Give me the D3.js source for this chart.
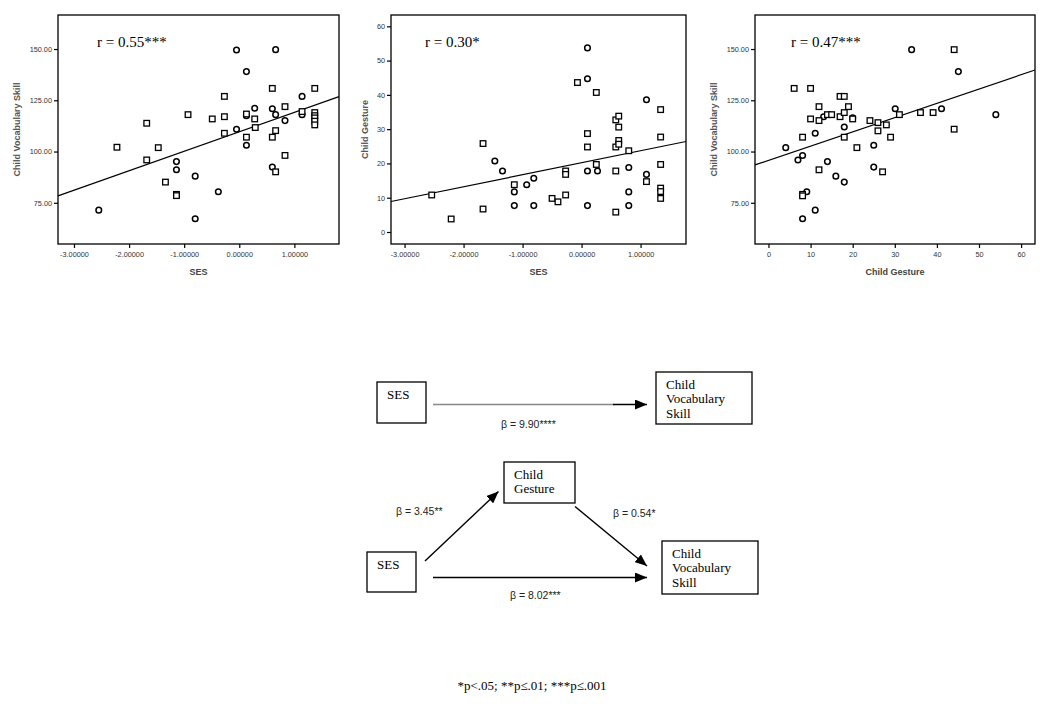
<!DOCTYPE html>
<html>
<head>
<meta charset="utf-8">
<script src="https://cdn.jsdelivr.net/npm/d3@7"></script>
<style>
  body { margin: 0; background: #fff; }
  svg { display: block; }
</style>
</head>
<body>
<svg width="1050" height="708"></svg>
<script>
// [x, y, shape]  shape: c = circle, s = square
const sesVocab = [
  [-2.55, 71.4, 'c'], [-2.22, 102.1, 's'], [-1.68, 113.8, 's'], [-1.68, 95.9, 's'],
  [-1.47, 101.9, 's'], [-1.34, 85.1, 's'], [-1.14, 95.1, 'c'], [-1.14, 91.1, 'c'],
  [-1.14, 79.1, 's'], [-1.14, 78.5, 's'], [-0.80, 88.0, 'c'], [-0.80, 67.2, 'c'],
  [-0.93, 118.0, 's'], [-0.49, 115.9, 's'], [-0.38, 80.4, 'c'], [-0.27, 126.9, 's'],
  [-0.27, 117.0, 's'], [-0.27, 108.9, 's'], [-0.05, 149.5, 'c'], [-0.05, 110.9, 'c'],
  [0.13, 139.0, 'c'], [0.13, 118.3, 's'], [0.13, 117.5, 'c'], [0.13, 107.0, 's'],
  [0.13, 103.1, 'c'], [0.28, 121.1, 'c'], [0.28, 115.9, 's'], [0.29, 111.7, 's'],
  [0.60, 130.8, 's'], [0.60, 120.9, 'c'], [0.60, 107.0, 's'], [0.60, 92.4, 'c'],
  [0.66, 149.7, 'c'], [0.66, 118.0, 'c'], [0.66, 110.2, 's'], [0.66, 90.1, 's'],
  [0.83, 121.9, 's'], [0.83, 115.1, 'c'], [0.83, 98.1, 's'], [1.14, 126.9, 'c'],
  [1.14, 119.5, 's'], [1.14, 118.0, 'c'], [1.37, 130.8, 's'], [1.37, 119.0, 's'],
  [1.37, 117.5, 's'], [1.37, 116.4, 's'], [1.37, 114.8, 's'], [1.37, 113.0, 's']
];

const sesGesture = [
  [-2.54, 10.8, 's'], [-2.21, 3.8, 's'], [-1.67, 25.8, 's'], [-1.67, 6.7, 's'],
  [-1.47, 20.7, 'c'], [-1.34, 17.8, 'c'], [-1.14, 13.8, 's'], [-1.14, 11.7, 'c'],
  [-1.14, 7.7, 'c'], [-0.93, 13.8, 'c'], [-0.81, 15.7, 'c'], [-0.81, 7.7, 'c'],
  [-0.50, 9.8, 's'], [-0.40, 8.8, 's'], [-0.27, 17.8, 's'], [-0.27, 16.8, 's'],
  [-0.27, 10.8, 's'], [-0.07, 43.6, 's'], [0.10, 53.7, 'c'], [0.10, 44.7, 'c'],
  [0.10, 28.7, 's'], [0.10, 24.8, 's'], [0.10, 17.8, 'c'], [0.10, 7.7, 'c'],
  [0.25, 40.7, 's'], [0.25, 19.7, 's'], [0.27, 17.8, 'c'], [0.58, 32.7, 's'],
  [0.58, 24.8, 's'], [0.58, 17.8, 's'], [0.58, 5.8, 's'], [0.63, 33.8, 's'],
  [0.63, 30.6, 's'], [0.63, 26.7, 's'], [0.63, 25.6, 's'], [0.80, 23.7, 's'],
  [0.80, 18.8, 'c'], [0.80, 11.7, 'c'], [0.80, 7.7, 'c'], [1.10, 38.6, 'c'],
  [1.10, 16.8, 'c'], [1.10, 14.7, 's'], [1.34, 35.7, 's'], [1.34, 27.7, 's'],
  [1.34, 19.7, 's'], [1.34, 12.8, 's'], [1.34, 11.8, 's'], [1.34, 9.8, 's']
];

const gestureVocab = [
  [4.1, 101.9, 'c'], [6.1, 130.8, 's'], [7.0, 95.9, 'c'], [8.1, 107.0, 's'],
  [8.1, 98.1, 'c'], [8.1, 79.1, 's'], [8.1, 78.4, 's'], [8.1, 67.2, 'c'],
  [9.1, 80.4, 'c'], [10.0, 130.8, 's'], [10.0, 115.9, 's'], [11.1, 108.9, 'c'],
  [11.1, 71.4, 'c'], [12.0, 121.9, 's'], [12.0, 115.1, 's'], [12.0, 91.1, 's'],
  [13.1, 117.0, 'c'], [14.0, 118.0, 's'], [14.0, 95.1, 'c'], [15.0, 118.0, 's'],
  [16.0, 88.0, 'c'], [17.0, 126.9, 's'], [17.0, 117.0, 's'], [18.0, 126.9, 's'],
  [18.0, 119.0, 's'], [18.0, 112.0, 'c'], [18.0, 107.0, 's'], [18.0, 85.1, 'c'],
  [19.0, 121.9, 's'], [20.0, 116.4, 'c'], [20.0, 115.9, 's'], [21.0, 101.9, 's'],
  [24.1, 115.1, 's'], [25.0, 103.1, 'c'], [25.0, 92.4, 'c'], [26.0, 114.1, 's'],
  [26.0, 110.1, 's'], [27.1, 90.1, 's'], [28.0, 113.0, 's'], [29.0, 107.0, 's'],
  [30.1, 120.9, 'c'], [31.1, 118.0, 's'], [34.0, 149.7, 'c'], [36.1, 119.0, 's'],
  [39.1, 119.0, 's'], [41.1, 120.9, 'c'], [44.1, 149.7, 's'], [44.1, 110.9, 's'],
  [45.1, 139.0, 'c'], [54.0, 118.0, 'c']
];

// fitted lines: [intercept, slope]
const fitSesVocab = [109.6, 9.5];
const fitSesGesture = [20.2, 3.5];
const fitGestureVocab = [95.7, 0.696];

const rLabels = ['r = 0.55***', 'r = 0.30*', 'r = 0.47***'];
const sesTicks = [-3, -2, -1, 0, 1];
const vocabTicks = [75, 100, 125, 150];
const gestureTicks = [0, 10, 20, 30, 40, 50, 60];

const svg = d3.select('svg');
svg.append('rect').attr('width', 1050).attr('height', 708).attr('fill', '#fff');

const panels = [
  {data: sesVocab, fit: fitSesVocab, r: rLabels[0],
   xDom: [-3.29, 1.81], yDom: [54.9, 166.6], xr: [58, 339], yr: [244, 15],
   xTicks: sesTicks, yTicks: vocabTicks, xFmt: d => d.toFixed(5), yFmt: d => d.toFixed(2),
   xTitle: 'SES', yTitle: 'Child Vocabulary Skill', yTitleX: 17, rx: 97},
  {data: sesGesture, fit: fitSesGesture, r: rLabels[1],
   xDom: [-3.23, 1.77], yDom: [-3.5, 63.3], xr: [391, 686], yr: [244, 15],
   xTicks: sesTicks, yTicks: gestureTicks, xFmt: d => d.toFixed(5), yFmt: d => d,
   xTitle: 'SES', yTitle: 'Child Gesture', yTitleX: 365, rx: 425},
  {data: gestureVocab, fit: fitGestureVocab, r: rLabels[2],
   xDom: [-3.2, 63.3], yDom: [54.9, 166.6], xr: [755, 1035], yr: [244, 15],
   xTicks: gestureTicks, yTicks: vocabTicks, xFmt: d => d, yFmt: d => d.toFixed(2),
   xTitle: 'Child Gesture', yTitle: 'Child Vocabulary Skill', yTitleX: 714, rx: 791}
];

panels.forEach(p => {
  const x = d3.scaleLinear().domain(p.xDom).range(p.xr);
  const y = d3.scaleLinear().domain(p.yDom).range(p.yr);
  const g = svg.append('g');

  const xAxis = g.append('g')
    .attr('transform', `translate(0,${p.yr[0]})`)
    .call(d3.axisBottom(x).tickValues(p.xTicks).tickFormat(p.xFmt).tickSize(4).tickPadding(4));
  const yAxis = g.append('g')
    .attr('transform', `translate(${p.xr[0]},0)`)
    .call(d3.axisLeft(y).tickValues(p.yTicks).tickFormat(p.yFmt).tickSize(4).tickPadding(2));
  [xAxis, yAxis].forEach(a => {
    a.select('.domain').remove();
    a.selectAll('line').attr('stroke', '#000').attr('stroke-width', 1.2);
    a.selectAll('text').attr('font-family', 'Liberation Sans, Arial, sans-serif')
      .attr('font-size', 7.3).attr('fill', '#333');
  });

  // frame
  g.append('rect')
    .attr('x', p.xr[0]).attr('y', p.yr[1])
    .attr('width', p.xr[1] - p.xr[0]).attr('height', p.yr[0] - p.yr[1])
    .attr('fill', 'none').attr('stroke', '#000').attr('stroke-width', 1.3);

  // fit line
  g.append('line')
    .attr('x1', x(p.xDom[0])).attr('y1', y(p.fit[0] + p.fit[1] * p.xDom[0]))
    .attr('x2', x(p.xDom[1])).attr('y2', y(p.fit[0] + p.fit[1] * p.xDom[1]))
    .attr('stroke', '#000').attr('stroke-width', 1.2);

  g.selectAll('circle.pt').data(p.data.filter(d => d[2] === 'c')).join('circle')
    .attr('class', 'pt')
    .attr('cx', d => x(d[0])).attr('cy', d => y(d[1])).attr('r', 2.8)
    .attr('fill', '#fff').attr('stroke', '#000').attr('stroke-width', 1.5);
  g.selectAll('rect.pt').data(p.data.filter(d => d[2] === 's')).join('rect')
    .attr('class', 'pt')
    .attr('x', d => x(d[0]) - 2.8).attr('y', d => y(d[1]) - 2.8)
    .attr('width', 5.6).attr('height', 5.6)
    .attr('fill', '#fff').attr('stroke', '#000').attr('stroke-width', 1.3);

  g.append('text')
    .attr('x', p.rx).attr('y', 47)
    .attr('font-family', 'Liberation Serif, Times New Roman, serif').attr('font-size', 15)
    .text(p.r);

  g.append('text')
    .attr('x', (p.xr[0] + p.xr[1]) / 2).attr('y', 275)
    .attr('text-anchor', 'middle')
    .attr('font-family', 'Liberation Sans, Arial, sans-serif').attr('font-size', 9)
    .attr('font-weight', 'bold').attr('fill', '#444')
    .text(p.xTitle);

  g.append('text')
    .attr('transform', `translate(${p.yTitleX + 3},${(p.yr[0] + p.yr[1]) / 2}) rotate(-90)`)
    .attr('text-anchor', 'middle')
    .attr('font-family', 'Liberation Sans, Arial, sans-serif').attr('font-size', 9)
    .attr('font-weight', 'bold').attr('fill', '#555')
    .text(p.yTitle);
});

// ---- mediation diagram ----
const defs = svg.append('defs');
defs.append('marker')
  .attr('id', 'head').attr('viewBox', '0 0 12 10')
  .attr('refX', 12).attr('refY', 5)
  .attr('markerWidth', 12).attr('markerHeight', 10)
  .attr('markerUnits', 'userSpaceOnUse').attr('orient', 'auto')
  .append('path').attr('d', 'M0,0 L12,5 L0,10 Z').attr('fill', '#000');

const boxes = [
  {x: 377, y: 382, w: 49, h: 41, lines: ['SES']},
  {x: 656, y: 372, w: 96, h: 52, lines: ['Child', 'Vocabulary', 'Skill']},
  {x: 504, y: 462, w: 71, h: 41, lines: ['Child', 'Gesture']},
  {x: 367, y: 552, w: 49, h: 40, lines: ['SES']},
  {x: 662, y: 541, w: 96, h: 53, lines: ['Child', 'Vocabulary', 'Skill']}
];

const dg = svg.append('g');
boxes.forEach(b => {
  dg.append('rect').attr('x', b.x).attr('y', b.y).attr('width', b.w).attr('height', b.h)
    .attr('fill', '#fff').attr('stroke', '#000').attr('stroke-width', 1.3);
  dg.append('text')
    .attr('font-family', 'Liberation Serif, Times New Roman, serif').attr('font-size', 13)
    .selectAll('tspan').data(b.lines).join('tspan')
    .attr('x', b.x + 10).attr('y', (d, i) => b.y + 16.5 + i * 14.8)
    .text(d => d);
});

// top arrow: grey shaft fading into black near the head
dg.append('line').attr('x1', 433).attr('y1', 404.5).attr('x2', 614).attr('y2', 404.5)
  .attr('stroke', '#888').attr('stroke-width', 1.4);
const arrows = [
  [613, 404.5, 647, 404.5],
  [425, 561, 498.5, 491.5],
  [575, 506.5, 647, 566],
  [433, 577.5, 647, 577.5]
];
dg.selectAll('line.arrow').data(arrows).join('line')
  .attr('class', 'arrow')
  .attr('x1', d => d[0]).attr('y1', d => d[1]).attr('x2', d => d[2]).attr('y2', d => d[3])
  .attr('stroke', '#000').attr('stroke-width', 1.4).attr('marker-end', 'url(#head)');

const betas = [
  {t: 'β = 9.90****', x: 501, y: 428},
  {t: 'β = 3.45**', x: 396, y: 515},
  {t: 'β = 0.54*', x: 613, y: 517},
  {t: 'β = 8.02***', x: 510, y: 599}
];
dg.selectAll('text.beta').data(betas).join('text')
  .attr('class', 'beta')
  .attr('x', d => d.x).attr('y', d => d.y)
  .attr('font-family', 'Liberation Sans, Arial, sans-serif').attr('font-size', 10.5)
  .attr('fill', '#222')
  .text(d => d.t);

svg.append('text')
  .attr('x', 532).attr('y', 690).attr('text-anchor', 'middle')
  .attr('font-family', 'Liberation Serif, Times New Roman, serif').attr('font-size', 13)
  .text('*p<.05; **p≤.01; ***p≤.001');
</script>
</body>
</html>
